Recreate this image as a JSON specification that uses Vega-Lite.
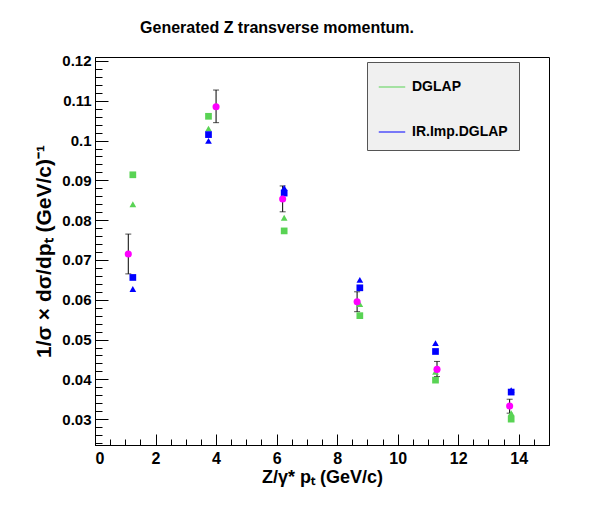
{
  "$schema": "https://vega.github.io/schema/vega-lite/v6.json",
  "width": 454,
  "height": 388,
  "autosize": "none",
  "padding": {"left": 95, "top": 57, "right": 54, "bottom": 75},
  "background": "white",
  "title": {
    "text": "Generated Z transverse momentum.",
    "font": "Liberation Sans",
    "fontSize": 16,
    "fontWeight": "bold",
    "color": "black",
    "anchor": "middle",
    "dx": -45,
    "offset": 18
  },
  "config": {
    "view": {"stroke": "#000", "strokeWidth": 1},
    "axis": {
      "labelFont": "Liberation Sans",
      "titleFont": "Liberation Sans",
      "labelFontWeight": "bold",
      "titleFontWeight": "bold",
      "labelColor": "black",
      "titleColor": "black",
      "domainColor": "black",
      "tickColor": "black",
      "grid": false
    }
  },
  "datasets": {
    "model": [
      {"x": 1.25, "v": 0.0914, "series": "DGLAP", "kind": "square"},
      {"x": 1.25, "v": 0.0840, "series": "DGLAP", "kind": "triangle-up"},
      {"x": 1.25, "v": 0.0656, "series": "IR.Imp.DGLAP", "kind": "square"},
      {"x": 1.25, "v": 0.0627, "series": "IR.Imp.DGLAP", "kind": "triangle-up"},
      {"x": 3.75, "v": 0.1061, "series": "DGLAP", "kind": "square"},
      {"x": 3.75, "v": 0.1030, "series": "DGLAP", "kind": "triangle-up"},
      {"x": 3.75, "v": 0.1015, "series": "IR.Imp.DGLAP", "kind": "square"},
      {"x": 3.75, "v": 0.0999, "series": "IR.Imp.DGLAP", "kind": "triangle-up"},
      {"x": 6.25, "v": 0.0773, "series": "DGLAP", "kind": "square"},
      {"x": 6.25, "v": 0.0806, "series": "DGLAP", "kind": "triangle-up"},
      {"x": 6.25, "v": 0.0868, "series": "IR.Imp.DGLAP", "kind": "square"},
      {"x": 6.25, "v": 0.0881, "series": "IR.Imp.DGLAP", "kind": "triangle-up"},
      {"x": 8.75, "v": 0.0560, "series": "DGLAP", "kind": "square"},
      {"x": 8.75, "v": 0.0589, "series": "DGLAP", "kind": "triangle-up"},
      {"x": 8.75, "v": 0.0630, "series": "IR.Imp.DGLAP", "kind": "square"},
      {"x": 8.75, "v": 0.0650, "series": "IR.Imp.DGLAP", "kind": "triangle-up"},
      {"x": 11.25, "v": 0.0398, "series": "DGLAP", "kind": "square"},
      {"x": 11.25, "v": 0.0419, "series": "DGLAP", "kind": "triangle-up"},
      {"x": 11.25, "v": 0.0470, "series": "IR.Imp.DGLAP", "kind": "square"},
      {"x": 11.25, "v": 0.0491, "series": "IR.Imp.DGLAP", "kind": "triangle-up"},
      {"x": 13.75, "v": 0.0300, "series": "DGLAP", "kind": "square"},
      {"x": 13.75, "v": 0.0315, "series": "DGLAP", "kind": "triangle-up"},
      {"x": 13.75, "v": 0.0368, "series": "IR.Imp.DGLAP", "kind": "square"},
      {"x": 13.75, "v": 0.0373, "series": "IR.Imp.DGLAP", "kind": "triangle-up"}
    ],
    "meas": [
      {"x": 1.1, "v": 0.0715, "lo": 0.0665, "hi": 0.0765},
      {"x": 4.0, "v": 0.1085, "lo": 0.1045, "hi": 0.1127},
      {"x": 6.2, "v": 0.0853, "lo": 0.0821, "hi": 0.0886},
      {"x": 8.66, "v": 0.0595, "lo": 0.0570, "hi": 0.0620},
      {"x": 11.3, "v": 0.0425, "lo": 0.0407, "hi": 0.0445},
      {"x": 13.7, "v": 0.0333, "lo": 0.0315, "hi": 0.0350}
    ]
  },
  "resolve": {"axis": {"x": "independent", "y": "independent"}},
  "layer": [
    {
      "data": {"name": "model"},
      "mark": {"type": "point", "opacity": 0},
      "encoding": {
        "x": {"field": "x", "type": "quantitative", "scale": {"domain": [0, 15], "nice": false, "zero": false},
          "axis": {"orient": "bottom", "values": [0,0.5,1,1.5,2,2.5,3,3.5,4,4.5,5,5.5,6,6.5,7,7.5,8,8.5,9,9.5,10,10.5,11,11.5,12,12.5,13,13.5,14,14.5,15], "labels": false, "domain": false, "tickSize": -6, "title": null}},
        "y": {"field": "v", "type": "quantitative", "scale": {"domain": [0.0235, 0.121], "nice": false, "zero": false},
          "axis": {"orient": "left", "values": [0.024,0.026,0.028,0.03,0.032,0.034,0.036,0.038,0.04,0.042,0.044,0.046,0.048,0.05,0.052,0.054,0.056,0.058,0.06,0.062,0.064,0.066,0.068,0.07,0.072,0.074,0.076,0.078,0.08,0.082,0.084,0.086,0.088,0.09,0.092,0.094,0.096,0.098,0.1,0.102,0.104,0.106,0.108,0.11,0.112,0.114,0.116,0.118,0.12], "labels": false, "domain": false, "tickSize": -7, "title": null}}
      }
    },
    {
      "data": {"name": "meas"},
      "mark": {"type": "rule", "color": "black", "strokeWidth": 1},
      "encoding": {
        "x": {"field": "x", "type": "quantitative",
          "axis": {"orient": "bottom", "values": [0, 2, 4, 6, 8, 10, 12, 14], "tickSize": -11, "labelFontSize": 16, "labelPadding": 16, "domainColor": "#000",
            "title": "Z/γ* pₜ (GeV/c)", "titleFontSize": 18, "titlePadding": 2}},
        "y": {"field": "lo", "type": "quantitative",
          "axis": {"orient": "left", "values": [0.03, 0.04, 0.05, 0.06, 0.07, 0.08, 0.09, 0.1, 0.11, 0.12], "format": ".2~f", "tickSize": -13, "labelFontSize": 15, "labelPadding": 17,
            "title": "1/σ × dσ/dpₜ  (GeV/c)⁻¹", "titleFontSize": 21, "titlePadding": 7}},
        "y2": {"field": "hi"}
      }
    },
    {
      "data": {"name": "meas"},
      "mark": {"type": "tick", "color": "black", "orient": "horizontal", "size": 6, "thickness": 1},
      "encoding": {
        "x": {"field": "x", "type": "quantitative", "axis": null},
        "y": {"field": "lo", "type": "quantitative", "axis": null}
      }
    },
    {
      "data": {"name": "meas"},
      "mark": {"type": "tick", "color": "black", "orient": "horizontal", "size": 6, "thickness": 1},
      "encoding": {
        "x": {"field": "x", "type": "quantitative", "axis": null},
        "y": {"field": "hi", "type": "quantitative", "axis": null}
      }
    },
    {
      "data": {"name": "model"},
      "mark": {"type": "line", "strokeWidth": 1},
      "encoding": {
        "x": {"field": "x", "type": "quantitative", "axis": null},
        "y": {"field": "v", "type": "quantitative", "axis": null},
        "detail": [{"field": "x", "type": "nominal"}, {"field": "kind", "type": "nominal"}],
        "color": {"field": "series", "type": "nominal",
          "scale": {"domain": ["DGLAP", "IR.Imp.DGLAP"], "range": ["#59d354", "#0000ff"]},
          "legend": {
            "title": null, "orient": "none", "legendX": 272, "legendY": 5,
            "symbolType": "stroke", "symbolSize": 700, "symbolStrokeWidth": 1,
            "labelFont": "Liberation Sans", "labelFontWeight": "bold", "labelFontSize": 14, "labelColor": "black",
            "labelOffset": 6, "rowPadding": 24, "padding": 11,
            "fillColor": "#f0f0f0", "strokeColor": "#555"
          }}
      }
    },
    {
      "data": {"name": "model"},
      "mark": {"type": "point", "filled": true, "opacity": 1, "size": 45},
      "encoding": {
        "x": {"field": "x", "type": "quantitative", "axis": null},
        "y": {"field": "v", "type": "quantitative", "axis": null},
        "color": {"field": "series", "type": "nominal", "legend": null},
        "shape": {"field": "kind", "type": "nominal", "scale": {"domain": ["square", "triangle-up"], "range": ["square", "triangle-up"]}, "legend": null}
      }
    },
    {
      "data": {"name": "meas"},
      "mark": {"type": "circle", "color": "#ff00ff", "opacity": 1, "size": 50},
      "encoding": {
        "x": {"field": "x", "type": "quantitative", "axis": null},
        "y": {"field": "v", "type": "quantitative", "axis": null}
      }
    }
  ]
}
